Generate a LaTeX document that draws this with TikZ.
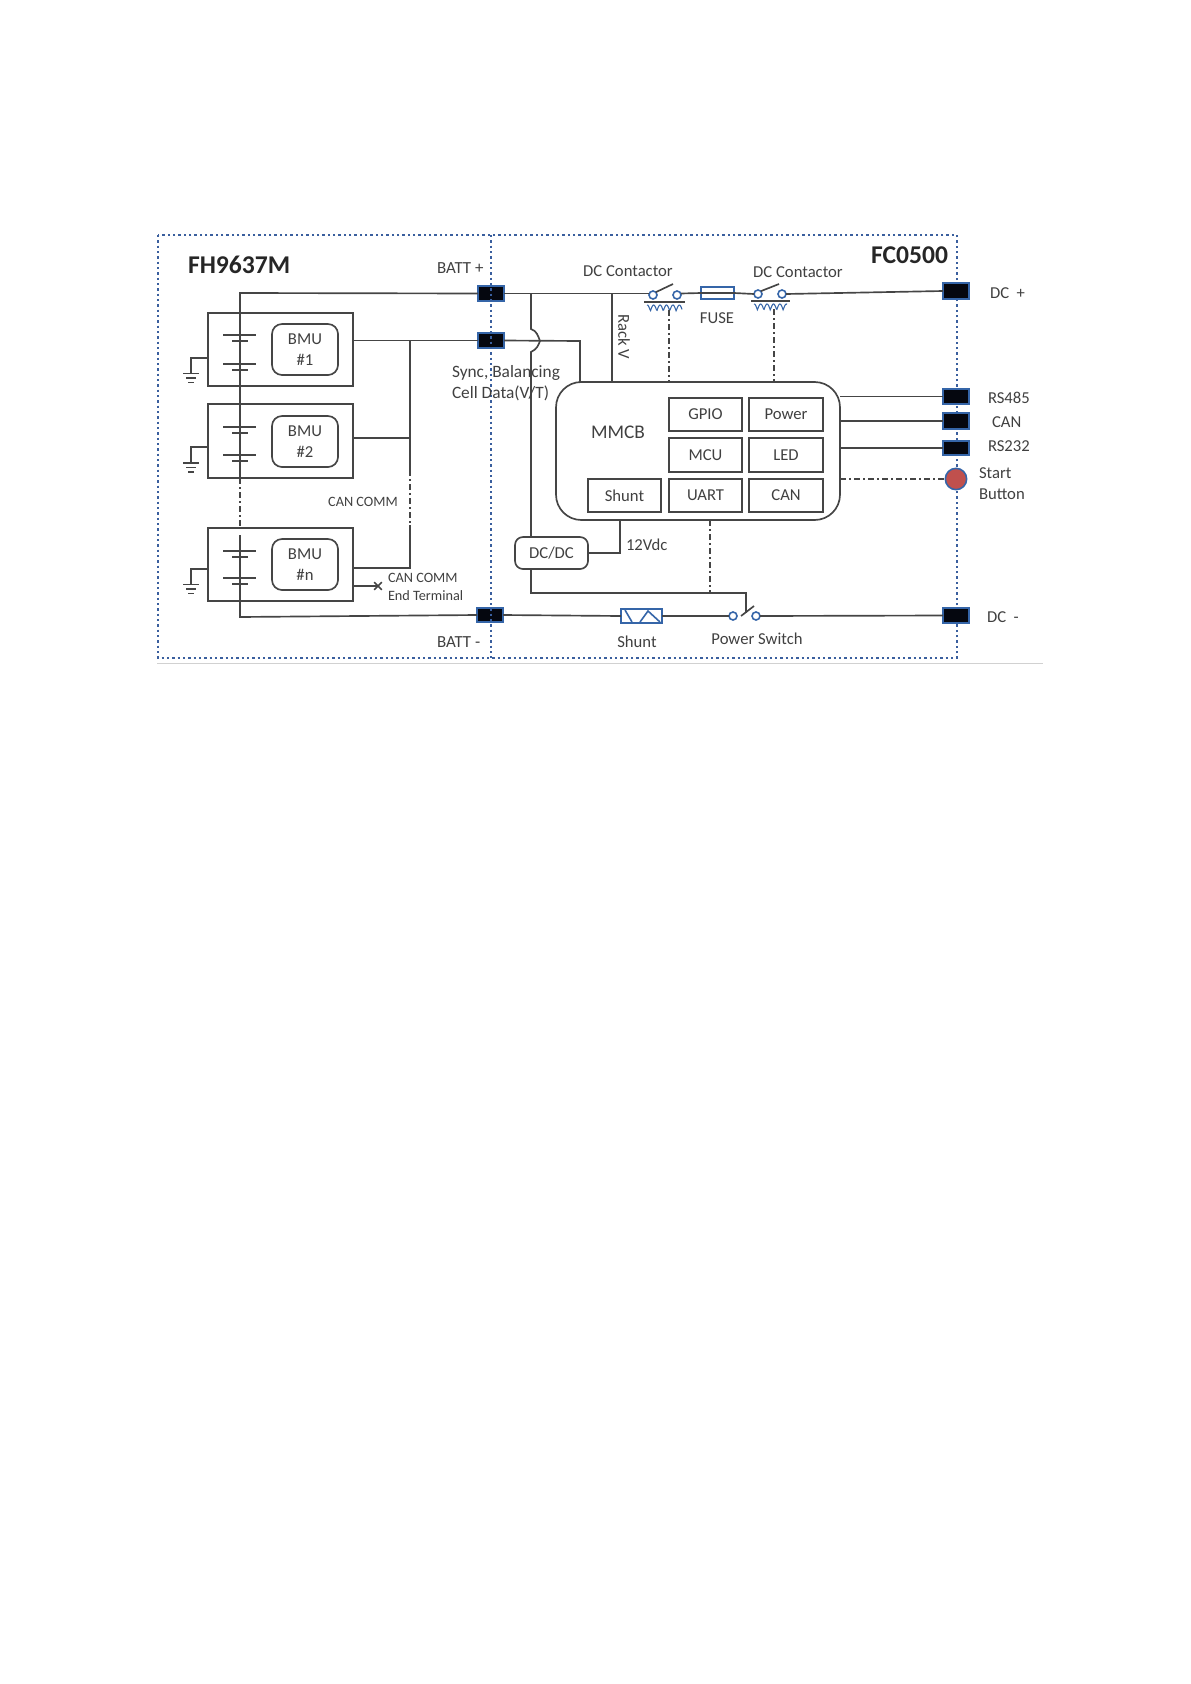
\documentclass[tikz,border=0pt]{standalone}
\usepackage{fontspec}
\setmainfont{Carlito}
\usetikzlibrary{shapes.misc,calc}
\definecolor{wire}{HTML}{454545}
\definecolor{txt}{HTML}{404040}
\definecolor{bdot}{HTML}{3A5F9E}
\definecolor{bsym}{HTML}{3565A8}
\definecolor{jack}{HTML}{05070F}
\definecolor{redbtn}{HTML}{C0504D}
\newcommand\rbx[7][]{\node[#1,minimum width={(#5-#3)*0.75pt},minimum height={(#6-#4)*0.75pt}] (#2) at ({(#3+#5)/2},{(#4+#6)/2}) {#7};}
\newcommand\fsz[1]{\fontsize{#1}{#1}\selectfont}
\tikzset{
  wireline/.style={draw=wire,line width=1.25pt},
  box/.style={draw=wire,line width=1.25pt,inner sep=0pt,outer sep=0pt,align=center,text=txt,font=\fsz{12.5}},
  rbox/.style={box,rounded corners=7.5pt},
  jackbox/.style={draw=bsym,fill=jack,line width=1pt,inner sep=0pt,outer sep=0pt},
  border/.style={draw=bdot,line width=1.6pt,dash pattern=on 1.7pt off 2.3pt},
  ctrl/.style={draw=wire,line width=.95pt,dash pattern=on 4.5pt off 2.5pt on 1pt off 2.5pt},
  lab/.style={text=txt,font=\fsz{12.5},inner sep=0pt,outer sep=0pt},
  smalllab/.style={text=txt,font=\fsz{10.7},inner sep=0pt,outer sep=0pt},
  titlelab/.style={text=black!85,font=\fsz{19.2}\bfseries,inner sep=0pt,outer sep=0pt},
  plate/.style={draw=wire,line width=1.2pt},
  symline/.style={draw=bsym,line width=1.2pt},
  contact/.style={circle,draw=bsym,line width=1.2pt,fill=white,minimum size=6pt,inner sep=0pt,outer sep=0pt},
}
\newcommand\battery[2]{%
  \draw[plate] (223,#1) -- (256,#1) (232,#1+6) -- (248,#1+6);
  \draw[plate] (223,#2) -- (256,#2) (232,#2+6) -- (248,#2+6);}
\newcommand\groundsym[3]{%
  \draw[wireline,line width=1pt] (#3.west |- 0,#1) -- (191,#1) -- (191,#2);
  \draw[wireline,line width=1pt] (183,#2) -- (199,#2) (186,#2+4.5) -- (196,#2+4.5) (188,#2+9) -- (194,#2+9);}
\newcommand\coilsym[3]{%
  \draw[wireline,line width=1pt] (#1,#3) -- (#2,#3);
  \draw[symline,line width=.8pt] plot[smooth,samples=60,domain=#1+3:#2-3] (\x,{#3+9-6*abs(sin((\x-#1)*28))});}
\begin{document}
\begin{tikzpicture}[x=0.75pt,y=-0.75pt]
\useasboundingbox (0,0) rectangle (1190,1684);
% page line under the figure
\draw[black!18,line width=.6pt] (157,663) -- (1043,663);
% outer dotted frame (right side sits under the jacks)
\draw[border] (158,235) rectangle (957,658);
% BMU blocks
\rbx[box]{m1}{208}{313}{353}{386}{}
\rbx[box]{m2}{208}{404}{353}{478}{}
\rbx[box]{mn}{208}{528}{353}{601}{}
\rbx[rbox]{b1}{272}{324}{338}{375}{BMU\\[3pt]\#1}
\rbx[rbox]{b2}{272}{416}{338}{467}{BMU\\[3pt]\#2}
\rbx[rbox]{bn}{272}{539}{338}{590}{BMU\\[3pt]\#n}
\battery{335}{364}
\battery{427}{455}
\battery{551}{578}
\groundsym{358}{373.5}{m1}
\groundsym{447}{463}{m2}
\groundsym{569}{584.5}{mn}
% jacks
\rbx[jackbox]{jb}{478}{286}{504}{301}{}
\rbx[jackbox]{js}{478}{333}{504}{348}{}
\rbx[jackbox]{jm}{477}{608}{503}{622}{}
\rbx[jackbox]{jdp}{943}{283}{969}{299}{}
\rbx[jackbox]{j485}{943}{389}{969}{404}{}
\rbx[jackbox]{jcan}{943}{413}{969}{429}{}
\rbx[jackbox]{j232}{943}{441}{969}{455}{}
\rbx[jackbox]{jdm}{943}{608}{969}{623}{}
\node[circle,draw=bsym,fill=redbtn,line width=1.2pt,minimum size=16pt,inner sep=0pt,outer sep=0pt] (btn) at (956,479) {};
% divider
\draw[border] (491,235) -- (491,658);
% MMCB
\rbx[box,rounded corners=19pt]{mmcb}{556}{382}{840}{520}{}
\rbx[box]{gpio}{669}{398}{742}{431}{GPIO}
\rbx[box]{power}{749}{398}{823}{431}{Power}
\rbx[box]{mcu}{669}{438}{742}{472}{MCU}
\rbx[box]{led}{749}{438}{823}{472}{LED}
\rbx[box]{shu}{588}{479}{661}{512}{Shunt}
\rbx[box]{uart}{669}{479}{742}{512}{UART}
\rbx[box]{can}{749}{479}{823}{512}{CAN}
\rbx[rbox,rounded corners=6pt]{dcdc}{515}{537}{588}{569}{DC/DC}
% contactors, fuse, shunt, switch
\node[contact] (c1a) at (653,295) {};
\node[contact] (c1b) at (677,295) {};
\node[contact] (c2a) at (758,294) {};
\node[contact] (c2b) at (782,294) {};
\node[contact] (swa) at (733,616) {};
\node[contact] (swb) at (756,616) {};
\rbx[box,draw=bsym]{fuse}{701}{287}{734}{299}{}
\rbx[box,draw=bsym]{shsym}{621}{609}{662}{623}{}
\draw[symline] (625,610) -- (632,622);
\draw[symline] (640,622) -- (648,611) -- (660,622);
\coilsym{644}{685}{302}
\coilsym{751}{790}{301}
\coordinate (t1) at (240,293);
\coordinate (hoptop) at (531,329);
\coordinate (hopbot) at (531,352);
\coordinate (rack) at (612,293);
\coordinate (sdrop) at (580,341);
% power wires
\draw[wireline] (jb.west) -- (t1) -- (240,478);
\draw[wireline] (jb.east) -- (c1a.west |- jb.east);
\draw[wireline] (c1b.east |- jb.east) -- (fuse.west);
\draw[wireline] (fuse.west) -- (fuse.east);
\draw[wireline] (fuse.east) -- (c2a.west);
\draw[wireline] (c2b.east) -- (jdp.west);
\draw[wireline] (c1a.north east) -- (673,284);
\draw[wireline] (c2a.north east) -- (779,284);
\draw[wireline] (rack) -- (rack |- mmcb.north);
\draw[wireline] (531,293) -- (hoptop) .. controls (537,331) and (538,336) .. (540,341) .. controls (538,346) and (537,349) .. (hopbot) -- (531,537);
\draw[wireline] (js.east) -- (sdrop) -- (sdrop |- mmcb.north);
\draw[wireline] (m1.east |- js.west) -- (js.west);
% CAN bus
\draw[wireline] (410,341) -- (410,470);
\draw[ctrl] (410,470) -- (410,525);
\draw[wireline] (410,525) -- (410,568) -- (mn.east |- 0,568);
\draw[wireline] (m2.east |- 0,438) -- (410,438);
\node[cross out,draw=wire,line width=1.2pt,minimum size=4.5pt,inner sep=0pt] (xend) at (378,586) {};
\draw[wireline] (mn.east |- xend) -- (xend.center);
% battery string
\draw[ctrl] (240,478) -- (240,526);
\draw[wireline] (240,535) -- (240,617) -- (jm.west);
\draw[wireline] (jm.east) -- (shsym.west);
\draw[wireline] (shsym.east) -- (swa.west);
\draw[wireline] (swb.east) -- (jdm.west);
\draw[wireline] (741,616) -- (754,606);
% DC/DC
\draw[wireline] (dcdc.east) -| (mmcb.south -| 620,520);
\draw[wireline] (dcdc.south -| 531,569) -- (531,593) -- (746,593) -- (746,613);
\draw[ctrl] (710,520) -- (710,593);
\draw[ctrl] (669,310) -- (669,382);
\draw[ctrl] (774,309) -- (774,382);
% MMCB to right side
\draw[wireline] (mmcb.east |- j485.west) -- (j485.west);
\draw[wireline] (mmcb.east |- jcan.west) -- (jcan.west);
\draw[wireline] (mmcb.east |- j232.west) -- (j232.west);
\draw[ctrl] (mmcb.east |- btn.west) -- (btn.west);
% texts
\node[titlelab,anchor=west] (tfh) at (188,265) {FH9637M};
\node[titlelab,anchor=east] (tfc) at (948,255) {FC0500};
\node[lab,anchor=west,font=\fsz{12.7}] (tbp) at (437,268) {BATT +};
\node[lab,anchor=west,font=\fsz{12.7}] (tbm) at (437,642) {BATT -};
\node[lab,anchor=west,font=\fsz{13}] (ts1) at (452,373) {Sync, Balancing};
\node[lab,anchor=west,font=\fsz{13}] (ts2) at (452,393) {Cell Data(V/T)};
\node[smalllab,anchor=center] (tcc) at (363,502) {CAN COMM};
\node[smalllab,anchor=west] (tc1) at (388,578) {CAN COMM};
\node[smalllab,anchor=west] (tc2) at (388,596) {End Terminal};
\node[lab,anchor=center] (tdc1) at (628,271) {DC Contactor};
\node[lab,anchor=center] (tdc2) at (798,272) {DC Contactor};
\node[lab,anchor=center] (tfu) at (717,318) {FUSE};
\node[lab,rotate=-90,anchor=center] (trv) at (624,337) {Rack V};
\node[lab,anchor=center,font=\fsz{14.5}] (tmm) at (618,432) {MMCB};
\node[lab,anchor=west] (t12) at (626,545) {12Vdc};
\node[lab,anchor=center] (tsh) at (637,642) {Shunt};
\node[lab,anchor=center] (tps) at (757,639) {Power Switch};
\node[lab,anchor=west] (tdp) at (990,293) {DC\ \ +};
\node[lab,anchor=west] (t485) at (988,398) {RS485};
\node[lab,anchor=west] (tca) at (992,422) {CAN};
\node[lab,anchor=west] (t232) at (988,446) {RS232};
\node[lab,anchor=west] (tst) at (979,473) {Start};
\node[lab,anchor=west] (tbu) at (979,494) {Button};
\node[lab,anchor=west] (tdm) at (987,617) {DC\ \ -};
\end{tikzpicture}
\end{document}
